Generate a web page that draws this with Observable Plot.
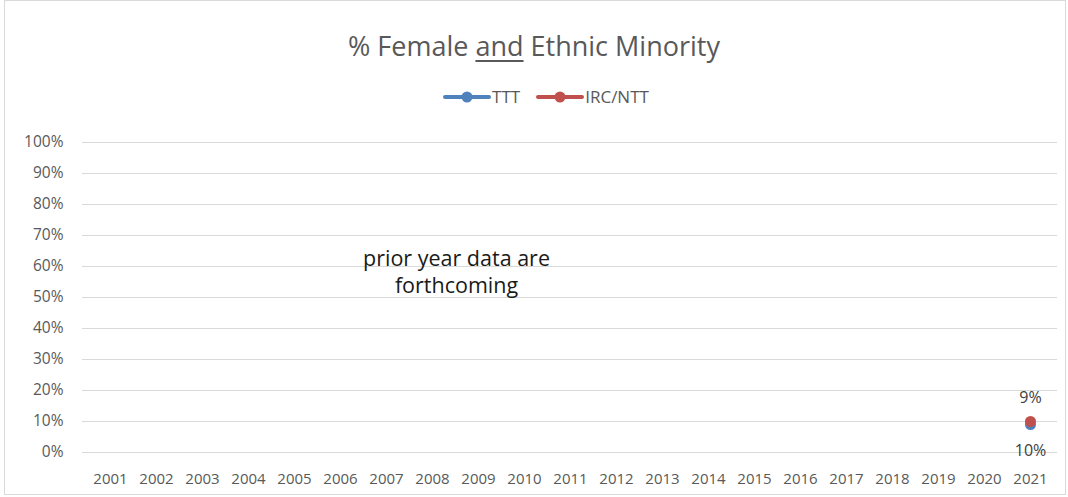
<!DOCTYPE html>
<html><head><meta charset="utf-8">
<script src="https://cdn.jsdelivr.net/npm/d3@7"></script>
<script src="https://cdn.jsdelivr.net/npm/@observablehq/plot@0.6"></script>
<style>
body{margin:0;background:#fff;font-family:"Open Sans",Lato,sans-serif;}
#wrap{position:relative;width:1068px;height:497px;}
#frame{position:absolute;left:4px;top:0;width:1062px;height:495px;border:1px solid #d9d9d9;box-sizing:border-box;}
#title{position:absolute;left:0;width:1068px;top:28px;text-align:center;font-size:27px;color:#595959;line-height:36px;}
#title u{text-decoration-thickness:2px;text-underline-offset:4px;}
#legend{position:absolute;left:12px;width:1068px;top:86px;text-align:center;font-size:17px;color:#595959;line-height:22px;}
.li{display:inline-flex;align-items:center;margin:0 8px;}
.li svg{margin-right:1px;}
#chart{position:absolute;left:0;top:0;}
</style></head>
<body><div id="wrap"><div id="frame"></div><div id="chart"></div>
<div id="title">% Female <u>and</u> Ethnic Minority</div>
<div id="legend"></div></div>
<script>
const years = d3.range(2001, 2022).map(String);
const seriesNames = ["TTT", "IRC/NTT"];
const seriesColors = ["#4f81bd", "#c0504d"];
const tttYears = ["2021"];
const tttValues = [0.09];
const tttLabels = ["9%"];
const ircYears = ["2021"];
const ircValues = [0.10];
const ircLabels = ["10%"];
const yTicks = d3.range(0, 11).map(d => d / 10);
const note = "prior year data are\nforthcoming";

const ttt = tttYears.map((y, i) => ({year: y, value: tttValues[i], label: tttLabels[i], series: "TTT"}));
const irc = ircYears.map((y, i) => ({year: y, value: ircValues[i], label: ircLabels[i], series: "IRC/NTT"}));

const plot = Plot.plot({
  width: 1068, height: 497,
  marginLeft: 82, marginRight: 11, marginTop: 142, marginBottom: 45,
  style: {fontFamily: "'Open Sans', Lato, sans-serif", fontSize: "15px", color: "#595959", background: "transparent"},
  x: {type: "band", domain: years, padding: 0, label: null, axis: null},
  y: {domain: [0, 1], label: null, axis: null},
  marks: [
    Plot.gridY(yTicks, {stroke: "#d9d9d9", strokeOpacity: 1, strokeWidth: 1}),
    Plot.axisX({tickSize: 0, tickPadding: 21, fill: "#595959", fontSize: 15}),
    Plot.axisY({ticks: yTicks, tickFormat: d3.format(".0%"), tickSize: 0, tickPadding: 19, fill: "#595959", fontSize: 15.5}),
    Plot.text([note], {x: () => "2009", y: () => 0.585, dx: -22, text: d => d, fontSize: 21.5, fill: "#1a1a1a", lineHeight: 1.26}),
    Plot.dot(ttt, {x: "year", y: "value", r: 5.5, fill: seriesColors[0], stroke: "none"}),
    Plot.dot(irc, {x: "year", y: "value", r: 5.5, fill: seriesColors[1], stroke: "none"}),
    Plot.text(ttt, {x: "year", y: "value", text: "label", dy: -27, fontSize: 16, fill: "#404040"}),
    Plot.text(irc, {x: "year", y: "value", text: "label", dy: 29, fontSize: 16, fill: "#404040"})
  ]
});
document.getElementById("chart").appendChild(plot);

const lg = document.getElementById("legend");
seriesNames.forEach((n, i) => {
  const s = document.createElement("span");
  s.className = "li";
  s.innerHTML = `<svg width="48" height="14"><line x1="2" y1="7" x2="46" y2="7" stroke="${seriesColors[i]}" stroke-width="4" stroke-linecap="round"/><circle cx="24" cy="7" r="5.5" fill="${seriesColors[i]}"/></svg>${n}`;
  lg.appendChild(s);
});
</script></body></html>
